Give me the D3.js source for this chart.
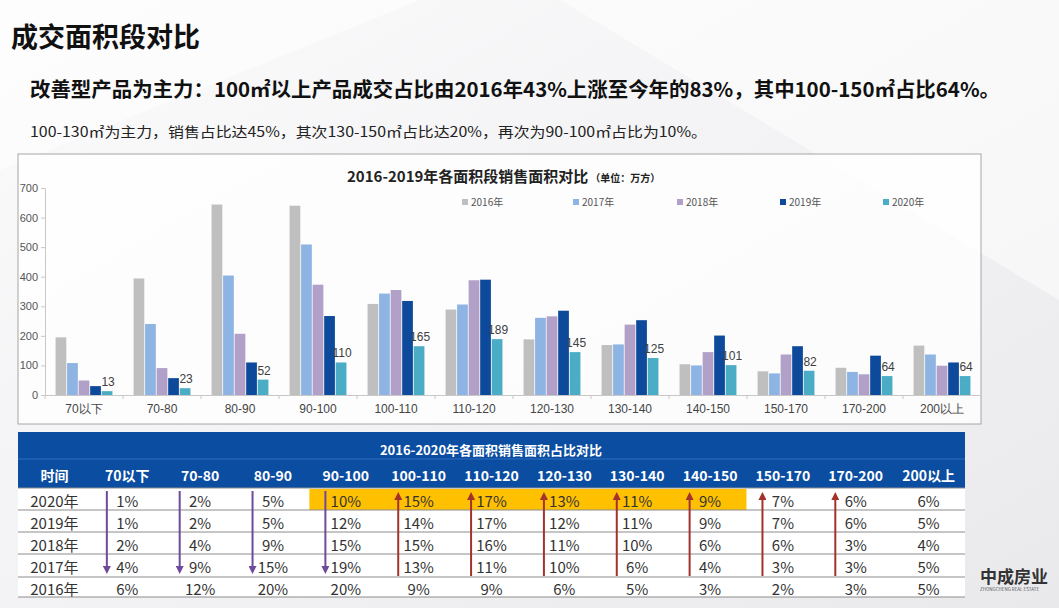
<!DOCTYPE html>
<html><head><meta charset="utf-8">
<script src="https://cdn.jsdelivr.net/npm/d3@7"></script>
<style>
html,body{margin:0;padding:0;background:#f4f4f6;}
svg{display:block;font-family:"Noto Sans CJK SC","Noto Sans",sans-serif;}
</style></head>
<body><svg id="c" width="1059" height="608"></svg>
<script>
// ---- data ----
const categories = ['70以下','70-80','80-90','90-100','100-110','110-120','120-130','130-140','140-150','150-170','170-200','200以上'];
const years = ['2016年','2017年','2018年','2019年','2020年'];
const s2016 = [195,394,644,640,308,289,188,169,104,80,92,167];
const s2017 = [108,240,404,509,343,306,261,171,100,73,78,137];
const s2018 = [49,91,207,373,355,388,266,238,145,137,70,99];
const s2019 = [30,57,110,267,318,390,285,253,201,165,133,110];
const s2020 = [13,23,52,110,165,189,145,125,101,82,64,64];
const yTicks = [0,100,200,300,400,500,600,700];
const seriesColors = ['#BFBFBF','#8DB4E2','#B1A0C7','#0D4A9B','#4BACC6'];

const tableCols = ['时间','70以下','70-80','80-90','90-100','100-110','110-120','120-130','130-140','140-150','150-170','170-200','200以上'];
const rowYears = ['2020年','2019年','2018年','2017年','2016年'];
const share2020 = [1,2,5,10,15,17,13,11,9,7,6,6];
const share2019 = [1,2,5,12,14,17,12,11,9,7,6,5];
const share2018 = [2,4,9,15,15,16,11,10,6,6,3,4];
const share2017 = [4,9,15,19,13,11,10,6,4,3,3,5];
const share2016 = [6,12,20,20,9,9,6,5,3,2,3,5];
const downCols = ['70以下','70-80','80-90','90-100'];
const upCols = ['100-110','110-120','120-130','130-140','140-150','150-170','170-200'];
const highlightCols = ['90-100','100-110','110-120','120-130','130-140','140-150'];

const series = [s2016,s2017,s2018,s2019,s2020];
const shares = [share2020,share2019,share2018,share2017,share2016];

const svg = d3.select('#c');

// ---- background ----
const defs = svg.append('defs');
const bg = defs.append('linearGradient').attr('id','bg').attr('x1',0).attr('y1',0).attr('x2',1).attr('y2',1);
bg.append('stop').attr('offset','0%').attr('stop-color','#fbfbfc');
bg.append('stop').attr('offset','60%').attr('stop-color','#f1f1f3');
bg.append('stop').attr('offset','100%').attr('stop-color','#e9e9ec');
svg.append('rect').attr('width',1059).attr('height',608).attr('fill','url(#bg)');
svg.append('path').attr('d','M560,0 L1059,0 L1059,300 Z').attr('fill','#ffffff').attr('opacity',0.5);
svg.append('path').attr('d','M0,0 L420,0 L0,170 Z').attr('fill','#ffffff').attr('opacity',0.5);

// ---- headings ----
svg.append('text').attr('x',11).attr('y',47).attr('font-size',27).attr('font-weight',700).attr('fill','#111').text('成交面积段对比');
svg.append('text').attr('x',30).attr('y',97).attr('font-size',20).attr('font-weight',700).attr('fill','#111')
  .attr('textLength',970).attr('lengthAdjust','spacingAndGlyphs')
  .text('改善型产品为主力：100㎡以上产品成交占比由2016年43%上涨至今年的83%，其中100-150㎡占比64%。');
svg.append('text').attr('x',30).attr('y',137).attr('font-size',14).attr('fill','#222')
  .attr('textLength',677).attr('lengthAdjust','spacingAndGlyphs')
  .text('100-130㎡为主力，销售占比达45%，其次130-150㎡占比达20%，再次为90-100㎡占比为10%。');

// ---- chart box ----
svg.append('rect').attr('x',18).attr('y',154).attr('width',963).attr('height',270)
  .attr('fill','#ffffff').attr('fill-opacity',0.8).attr('stroke','#a6a6a6').attr('stroke-width',1);

const x0 = d3.scaleBand().domain(categories).range([45,981]).paddingInner(0.25).paddingOuter(0.125);
const x1 = d3.scaleBand().domain(years).range([0,x0.bandwidth()]).padding(0.07);
const y = d3.scaleLinear().domain([0,700]).range([395,188]);

// y axis
const yAxis = svg.append('g').attr('transform','translate(45,0)')
  .call(d3.axisLeft(y).tickValues(yTicks).tickSize(4).tickPadding(3));
yAxis.select('.domain').attr('stroke','#c8c8c8');
yAxis.selectAll('.tick line').attr('stroke','#c8c8c8');
yAxis.selectAll('text').attr('font-size',11).attr('fill','#555').attr('font-family','"Liberation Sans",sans-serif');

// x axis
const xAxis = svg.append('g').attr('transform','translate(0,395)')
  .call(d3.axisBottom(x0).tickSize(0).tickPadding(9));
xAxis.select('.domain').attr('stroke','#c8c8c8');
xAxis.selectAll('text').attr('font-size',12).attr('fill','#444');
const step = x0.step();
svg.append('g').selectAll('line').data(d3.range(categories.length+1)).join('line')
  .attr('x1',i=>45+i*step).attr('x2',i=>45+i*step).attr('y1',395).attr('y2',399).attr('stroke','#c8c8c8');

// bars
const groups = svg.append('g').selectAll('g').data(categories).join('g')
  .attr('transform',c=>`translate(${x0(c)},0)`);
groups.selectAll('rect').data((c,i)=>years.map((yr,k)=>({yr,k,v:series[k][i]}))).join('rect')
  .attr('x',d=>x1(d.yr)).attr('width',x1.bandwidth())
  .attr('y',d=>y(d.v)).attr('height',d=>395-y(d.v))
  .attr('fill',d=>seriesColors[d.k]);
groups.append('text').datum((c,i)=>s2020[i])
  .attr('x',x1('2020年')+x1.bandwidth()/2+1).attr('y',d=>y(d)-5)
  .attr('text-anchor','middle').attr('font-size',12).attr('fill','#404040')
  .attr('font-family','"Liberation Sans",sans-serif').text(d=>d);

// chart title
const t = svg.append('text').attr('x',347).attr('y',182).attr('fill','#222');
t.append('tspan').attr('font-size',15).attr('font-weight',700).text('2016-2019年各面积段销售面积对比');
t.append('tspan').attr('font-size',10).attr('font-weight',700).attr('dx',2).text('（单位：万方）');

// legend
const legX = [462,573,677,780,883];
const leg = svg.append('g').selectAll('g').data(years).join('g')
  .attr('transform',(d,i)=>`translate(${legX[i]},202)`);
leg.append('rect').attr('x',0).attr('y',-3).attr('width',6).attr('height',6).attr('fill',(d,i)=>seriesColors[i]);
leg.append('text').attr('x',9).attr('y',4).attr('font-size',10).attr('fill','#555').text(d=>d);

// ---- table ----
const tx = d3.scaleBand().domain(tableCols).range([18,965]);
const rowTop = [488,510,532,554,577];
const rowH = [22,22,22,23,20];

svg.append('rect').attr('x',18).attr('y',432).attr('width',947).attr('height',56).attr('fill','#0B4DA1');
svg.append('line').attr('x1',18).attr('x2',965).attr('y1',459).attr('y2',459).attr('stroke','#2f6cc0').attr('stroke-width',1);
svg.append('text').attr('x',491).attr('y',449).attr('text-anchor','middle').attr('dominant-baseline','central')
  .attr('font-size',13).attr('font-weight',700).attr('fill','#fff').text('2016-2020年各面积销售面积占比对比');
svg.append('g').selectAll('text').data(tableCols).join('text')
  .attr('x',d=>tx(d)+tx.bandwidth()/2).attr('y',475).attr('text-anchor','middle').attr('dominant-baseline','central')
  .attr('font-size',14).attr('font-weight',700).attr('fill','#fff').text(d=>d);

// rows
svg.append('g').selectAll('rect').data(rowYears).join('rect')
  .attr('x',18).attr('y',(d,i)=>rowTop[i]).attr('width',947).attr('height',(d,i)=>rowH[i]).attr('fill','#ffffff');
// highlight
svg.append('rect').attr('x',tx(highlightCols[0])).attr('y',rowTop[0]+1)
  .attr('width',tx(highlightCols[highlightCols.length-1])+tx.bandwidth()-tx(highlightCols[0])).attr('height',rowH[0]-1)
  .attr('fill','#FFC000');
// row lines
svg.append('g').selectAll('line').data(rowTop.concat([597])).join('line')
  .attr('x1',18).attr('x2',965).attr('y1',d=>d).attr('y2',d=>d).attr('stroke','#8c8c8c').attr('stroke-width',1);

const cells = [];
rowYears.forEach((ry,r)=>{
  cells.push({x:tx('时间')+tx.bandwidth()/2, y:rowTop[r]+rowH[r]/2+1, t:ry});
  categories.forEach((c,j)=>cells.push({x:tx(c)+tx.bandwidth()/2, y:rowTop[r]+rowH[r]/2+1, t:shares[r][j]+'%'}));
});
svg.append('g').selectAll('text').data(cells).join('text')
  .attr('x',d=>d.x).attr('y',d=>d.y).attr('text-anchor','middle').attr('dominant-baseline','central')
  .attr('font-size',15).attr('fill','#333').text(d=>d.t);

// arrows
const mk = (id,color)=>defs.append('marker').attr('id',id).attr('viewBox','0 0 10 10').attr('refX',5).attr('refY',5)
  .attr('markerWidth',4).attr('markerHeight',4).attr('orient','auto-start-reverse')
  .append('path').attr('d','M0,0 L10,5 L0,10 Z').attr('fill',color);
mk('ad','#6E4A9A'); mk('au','#A3312C');
svg.append('g').selectAll('line').data(downCols).join('line')
  .attr('x1',d=>tx(d)+16).attr('x2',d=>tx(d)+16).attr('y1',491).attr('y2',570)
  .attr('stroke','#6E4A9A').attr('stroke-width',2).attr('marker-end','url(#ad)');
svg.append('g').selectAll('line').data(upCols).join('line')
  .attr('x1',d=>tx(d)+16).attr('x2',d=>tx(d)+16).attr('y1',576).attr('y2',496)
  .attr('stroke','#A3312C').attr('stroke-width',2).attr('marker-end','url(#au)');

// logo
svg.append('text').attr('x',980).attr('y',583).attr('font-size',17).attr('font-weight',700).attr('fill','#333').text('中成房业');
svg.append('text').attr('x',980).attr('y',591).attr('font-size',4.5).attr('fill','#555').text('ZHONGCHENG REAL ESTATE');
</script></body></html>
